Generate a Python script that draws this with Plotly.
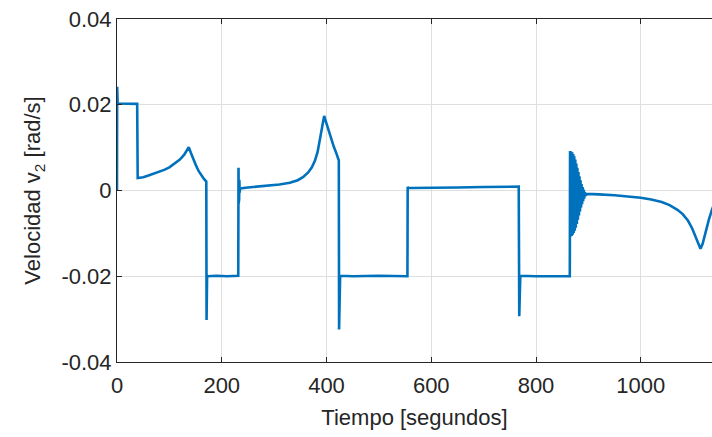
import plotly.graph_objects as go

# Velocity of joint 2 over time (seconds, rad/s), split into the segments of the run

# start-up: spike at t=0, hold at +0.02, drop and first hump
tiempo_1 = [0, 0.3, 1.2, 3, 20, 38.5,
            39.5, 50, 60, 70, 80, 90, 100, 110, 120, 128, 133, 137,
            141, 146, 151, 156, 161, 166, 170.5]
velocidad_1 = [0.0, 0.0242, 0.0203, 0.0203, 0.0202, 0.0202,
               0.0029, 0.0031, 0.0035, 0.0039, 0.0043, 0.0048, 0.0054, 0.0062, 0.0072, 0.0083, 0.0092, 0.0101,
               0.0088, 0.0072, 0.0058, 0.0045, 0.0035, 0.0027, 0.0021]

# negative hold, then second hump up to the peak near t=395
tiempo_2 = [171, 172, 173, 190, 210, 231.5,
            232, 232.4, 232.8, 233.2, 233.6, 234.2, 235, 250, 270, 290, 310, 330, 345,
            355, 365, 372, 378, 383, 387, 390.5, 393, 395.5,
            399, 404, 409, 414, 419, 423.5]
velocidad_2 = [-0.0302, -0.0199, -0.0200, -0.0199, -0.0200, -0.0199,
               0.0053, -0.0030, 0.0040, -0.0020, 0.0025, -0.0005, 0.0005, 0.0007, 0.0009, 0.0011, 0.0014, 0.0018, 0.0024,
               0.0031, 0.0042, 0.0054, 0.0070, 0.0090, 0.0115, 0.0140, 0.0160, 0.0174,
               0.0160, 0.0140, 0.0120, 0.0102, 0.0086, 0.0070]

# square pulses between t=424 and t=865
tiempo_3 = [424, 425, 426, 450, 500, 554.5,
            555, 556, 560, 600, 650, 700, 740, 767,
            768, 769, 770, 800, 840, 864.5]
velocidad_3 = [-0.0324, -0.0201, -0.0199, -0.0200, -0.0199, -0.0200,
               0.0009, 0.0006, 0.0006, 0.0006, 0.0007, 0.0008, 0.0009, 0.0009,
               -0.0293, -0.0201, -0.0199, -0.0200, -0.0199, -0.0200]

# oscillation burst after the switch at t=865
tiempo_4 = [865, 866, 867, 868, 869, 870, 871, 872, 873, 874, 875, 876, 877, 878, 879,
            880, 881, 882, 883, 884, 885, 886, 887, 888, 889, 890, 891, 892, 893, 895, 897]
velocidad_4 = [0.0092, -0.0107, 0.0091, -0.0106, 0.0089, -0.0103, 0.0085, -0.0099, 0.0080, -0.0094,
               0.0072, -0.0087, 0.0063, -0.0078, 0.0053, -0.0068, 0.0043, -0.0058, 0.0033, -0.0049,
               0.0024, -0.0040, 0.0015, -0.0032, 0.0008, -0.0025, 0.0002, -0.0019, -0.0004,
               -0.0012, -0.0008]

# slow drift down to the dip near t=1114
tiempo_5 = [900, 920, 950, 980, 1000, 1020, 1040, 1055, 1070, 1080, 1090, 1098, 1105,
            1110, 1114, 1118, 1124, 1130, 1136, 1142]
velocidad_5 = [-0.0008, -0.0009, -0.0011, -0.0014, -0.0017, -0.0021, -0.0027, -0.0034, -0.0045, -0.0055,
               -0.0070, -0.0088, -0.0108, -0.0124, -0.0136, -0.0125, -0.0095, -0.0068, -0.0045, -0.0025]

tiempo = tiempo_1 + tiempo_2 + tiempo_3 + tiempo_4 + tiempo_5
velocidad = velocidad_1 + velocidad_2 + velocidad_3 + velocidad_4 + velocidad_5

x_ticks = [0, 200, 400, 600, 800, 1000]
y_ticks = [-0.04, -0.02, 0, 0.02, 0.04]
y_tick_text = ["-0.04", "-0.02", "0", "0.02", "0.04"]

ink = "#262626"
grid = "#dfdfdf"
font_family = "Liberation Sans, Arial, sans-serif"
fs = 22

fig = go.Figure()
fig.add_trace(go.Scatter(
    x=tiempo, y=velocidad, mode="lines",
    line=dict(color="#0072BD", width=2.6),
    showlegend=False,
))

fig.update_layout(
    width=712, height=437,
    margin=dict(l=117, r=0, t=19, b=75),
    paper_bgcolor="white", plot_bgcolor="white",
    font=dict(family=font_family, size=fs, color=ink),
)
fig.update_xaxes(
    range=[0, 1136], tickvals=x_ticks,
    showgrid=True, gridcolor=grid, gridwidth=1,
    zeroline=False,
    showline=True, linecolor=ink, linewidth=1, mirror="ticks",
    ticks="inside", ticklen=5, tickcolor=ink,
    ticklabelstandoff=4,
    title=dict(text="Tiempo [segundos]", font=dict(size=fs, color=ink), standoff=12),
)
fig.update_yaxes(
    range=[-0.04, 0.04], tickvals=y_ticks, ticktext=y_tick_text,
    showgrid=True, gridcolor=grid, gridwidth=1,
    zeroline=False,
    showline=True, linecolor=ink, linewidth=1, mirror=False,
    ticks="inside", ticklen=5, tickcolor=ink,
    title=dict(text="Velocidad v<sub>2</sub> [rad/s]", font=dict(size=fs, color=ink), standoff=14),
)

fig.write_html("out.html")
